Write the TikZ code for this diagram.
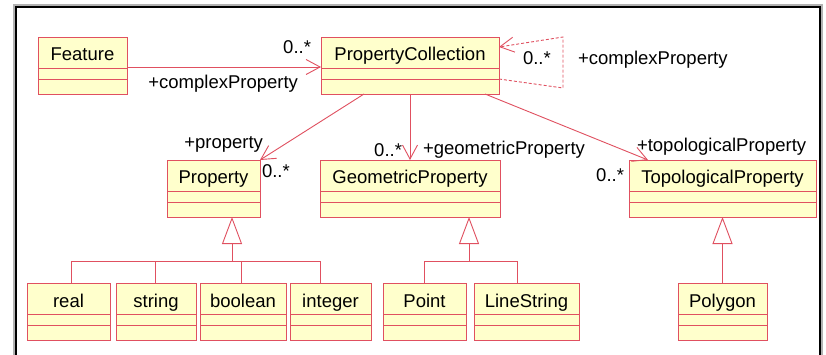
\documentclass[tikz,border=0pt]{standalone}
\usepackage{fontspec}
\setmainfont{Liberation Sans}
\usetikzlibrary{arrows.meta,calc}
\definecolor{umlred}{RGB}{224,80,96}
\definecolor{umlfill}{RGB}{255,255,204}
\newcommand{\umlclass}[5]{%
  \node[clsbox, minimum width=#4pt] (#1) at (#2,#3) {};
  \node[anchor=base] (#1-name) at ($(#1.north)+(0,24)$) {#5};
  \draw[clsline] ($(#1.north west)+(0,31)$) -- ($(#1.north east)+(0,31)$);
  \draw[clsline] ($(#1.north west)+(0,42)$) -- ($(#1.north east)+(0,42)$);
}
\begin{document}
\begin{tikzpicture}[x=1pt,y=-1pt,
  every node/.style={font=\fontsize{18.5}{22}\selectfont, inner sep=0pt, outer sep=0pt, text=black},
  clsbox/.style={draw=umlred, fill=umlfill, line width=0.9pt, rectangle, minimum height=57pt, anchor=north west},
  clsline/.style={draw=umlred, line width=0.9pt},
  assoc/.style={draw=umlred, line width=0.9pt, -{Straight Barb[length=14pt,width=15pt]}},
  gen/.style={draw=umlred, line width=0.9pt},
  genhead/.style={draw=umlred, line width=0.9pt, -{Triangle[open,length=27pt,width=20pt,fill=white]}}
]
\fill[white] (0,0) rectangle (826,355);
\useasboundingbox (0,0) rectangle (826,355);
% frame
\draw[black!30, line width=2pt] (13.5,5.5) rectangle (821.5,370);
\draw[black, line width=2pt] (15.5,7.5) rectangle (819.5,370);

% classes
\umlclass{feat}{38}{37}{89}{Feature}
\umlclass{pcoll}{321}{37}{178}{PropertyCollection}
\umlclass{prop}{167}{160}{93}{Property}
\umlclass{geom}{320}{160}{180}{GeometricProperty}
\umlclass{topo}{629}{160}{187}{TopologicalProperty}
\umlclass{real}{27}{283}{83}{real}
\umlclass{string}{116}{283}{80}{string}
\umlclass{boolean}{200}{283}{86}{boolean}
\umlclass{integer}{290}{283}{81}{integer}
\umlclass{point}{383}{283}{83}{Point}
\umlclass{linestr}{474}{283}{105}{LineString}
\umlclass{polygon}{678}{283}{89}{Polygon}

% associations
\draw[assoc] ($(feat.north east)+(0,30)$) -- ($(pcoll.north west)+(0,30)$);
\draw[assoc] ($(pcoll.south west)+(43,0)$) -- (prop.north east);
\draw[assoc] (pcoll.south) -- (geom.north);
\draw[assoc] ($(pcoll.south west)+(164,0)$) -- ($(topo.north west)+(19,0)$);
\coordinate (loopA) at ($(pcoll.north east)+(64,0)$);
\coordinate (loopB) at ($(pcoll.north east)+(64,51)$);
\draw[assoc, dash pattern=on 3pt off 2pt] ($(pcoll.north east)+(0,42)$) -- (loopB) -- (loopA) -- ($(pcoll.north east)+(0,10)$);

% generalizations
\coordinate (pApex) at ($(prop.south west)+(65,0)$);
\draw[genhead] ($(pApex)+(0,44)$) -- (pApex);
\draw[gen] ($(real.north west)+(44,0)$) |- ($(integer.north west)+(30,-22)$) -- ($(integer.north west)+(30,0)$);
\draw[gen] ($(string.north west)+(39,0)$) -- ++(0,-22);
\draw[gen] ($(boolean.north west)+(41,0)$) -- ++(0,-22);
\coordinate (gApex) at ($(geom.south west)+(149,0)$);
\draw[genhead] ($(gApex)+(0,44)$) -- (gApex);
\draw[gen] ($(point.north west)+(41,0)$) |- ($(linestr.north west)+(43,-22)$) -- ($(linestr.north west)+(43,0)$);
\draw[genhead] (polygon.north) -- (topo.south);

% labels
\node[anchor=base east] (l1) at (311,54) {0..*};
\node[anchor=base east] (l2) at (298,89) {+complexProperty};
\node[anchor=base west] (l3) at (523,65) {0..*};
\node[anchor=base west] (l4) at (578,65) {+complexProperty};
\node[anchor=base east] (l5) at (263,149) {+property};
\node[anchor=base west] (l6) at (262,178) {0..*};
\node[anchor=base east] (l7) at (402,157) {0..*};
\node[anchor=base west] (l8) at (423,155) {+geometricProperty};
\node[anchor=base west] (l9) at (637,152) {+topologicalProperty};
\node[anchor=base east] (l10) at (624,182) {0..*};
\end{tikzpicture}
\end{document}
